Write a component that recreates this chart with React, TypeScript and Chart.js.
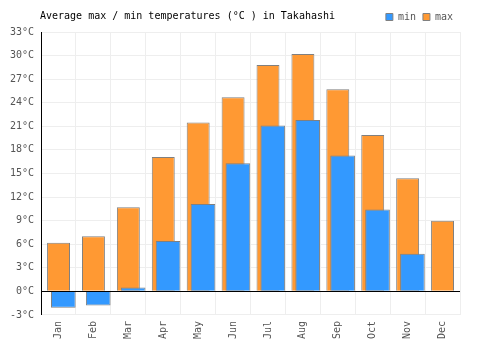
import React, { useEffect, useRef } from 'react';
import { Chart, registerables } from 'chart.js';

Chart.register(...registerables);

const months = ['Jan', 'Feb', 'Mar', 'Apr', 'May', 'Jun', 'Jul', 'Aug', 'Sep', 'Oct', 'Nov', 'Dec'];
const minTemps = [-2.1, -1.8, 0.5, 6.4, 11.1, 16.3, 21.1, 21.8, 17.3, 10.4, 4.8, 0.0];
const maxTemps = [6.2, 7.0, 10.7, 17.1, 21.5, 24.7, 28.8, 30.2, 25.7, 19.9, 14.4, 9.0];
const spacer = months.map(() => null);
const titleText = 'Average max / min temperatures (°C ) in Takahashi';
const yMin = -3;
const yMax = 33;
const yStep = 3;

const FONT = '"DejaVu Sans Mono", monospace';

const titlePlugin = {
  id: 'customTitle',
  afterDraw(chart: any) {
    const ctx = chart.ctx;
    ctx.save();
    ctx.font = `10px ${FONT}`;
    ctx.fillStyle = '#000';
    ctx.textBaseline = 'middle';
    ctx.textAlign = 'left';
    ctx.fillText(titleText, 40, 16);
    ctx.restore();
  },
};

const zeroLinePlugin = {
  id: 'zeroLine',
  afterDatasetsDraw(chart: any) {
    const ctx = chart.ctx;
    const y = chart.scales.y.getPixelForValue(0);
    const { left, right } = chart.chartArea;
    const yy = Math.floor(y) + 0.5;
    ctx.save();
    ctx.strokeStyle = '#000';
    ctx.lineWidth = 1;
    ctx.beginPath();
    ctx.moveTo(left, yy);
    ctx.lineTo(right, yy);
    ctx.stroke();
    ctx.restore();
  },
};

export default function App() {
  const ref = useRef<HTMLCanvasElement>(null);
  useEffect(() => {
    if (!ref.current) return;
    const chart = new Chart(ref.current, {
      type: 'bar',
      data: {
        labels: months,
        datasets: [
          {
            label: 'min',
            data: minTemps,
            backgroundColor: '#3399ff',
            borderColor: '#808080',
            borderWidth: 1,
            grouped: true,
            order: 1,
            categoryPercentage: 0.55,
            barPercentage: 2.57,
          } as any,
          {
            label: 'max',
            data: maxTemps,
            backgroundColor: '#ff9933',
            borderColor: '#808080',
            borderWidth: 1,
            grouped: false,
            order: 2,
            categoryPercentage: 1,
            barPercentage: 0.657,
          } as any,
          {
            label: '_spacer',
            data: spacer,
            grouped: true,
            order: 0,
            categoryPercentage: 0.55,
            barPercentage: 2.57,
          } as any,
        ],
      },
      options: {
        animation: false,
        responsive: false,
        maintainAspectRatio: false,
        layout: { padding: { left: 3, right: 40, top: 5, bottom: 5 } },
        plugins: {
          title: { display: false },
          tooltip: { enabled: false },
          legend: {
            display: true,
            position: 'top',
            align: 'end',
            labels: {
              boxWidth: 7,
              boxHeight: 7,
              padding: 7,
              color: '#555',
              font: { family: FONT, size: 10 },
              filter: (item: any) => item.text !== '_spacer',
            },
          },
        },
        scales: {
          x: {
            grid: { color: '#eeeeee', offset: true, drawTicks: false, tickLength: 0 },
            border: { color: '#eeeeee' },
            ticks: {
              color: '#555',
              font: { family: FONT, size: 10 },
              minRotation: 90,
              maxRotation: 90,
              padding: 6,
            },
          },
          y: {
            min: yMin,
            max: yMax,
            grid: {
              color: (c: any) => (c.tick && c.tick.value === 0 ? '#000' : '#eeeeee'),
              drawTicks: false,
              tickLength: 0,
            },
            border: { color: '#000' },
            ticks: {
              stepSize: yStep,
              color: '#555',
              padding: 7,
              font: { family: FONT, size: 10 },
              callback: (v: any) => `${v}°C`,
            },
          },
        },
      },
      plugins: [titlePlugin, zeroLinePlugin],
    });
    return () => chart.destroy();
  }, []);
  return (
    <div style={{ position: 'absolute', left: 0, top: 0, width: 500, height: 350 }}>
      <canvas ref={ref} width={500} height={350} />
    </div>
  );
}
